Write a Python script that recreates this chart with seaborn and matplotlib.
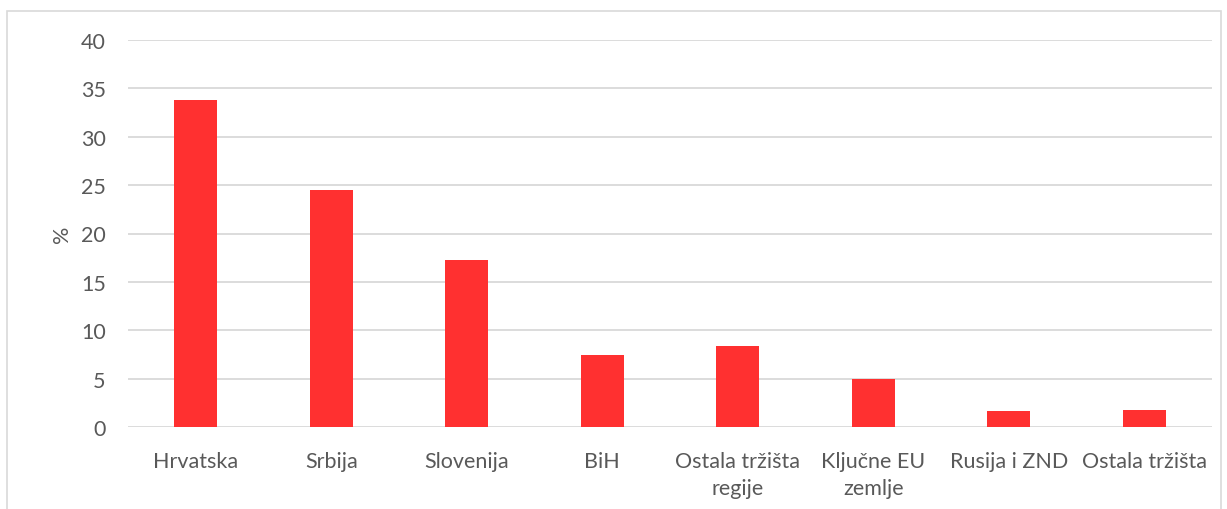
import matplotlib
matplotlib.use("Agg")
import matplotlib.pyplot as plt
import seaborn as sns
import pandas as pd
from matplotlib.patches import Rectangle

categories = ["Hrvatska", "Srbija", "Slovenija", "BiH", "Ostala tržišta\nregije",
              "Ključne EU\nzemlje", "Rusija i ZND", "Ostala tržišta"]
values = [33.8, 24.5, 17.3, 7.45, 8.35, 5.0, 1.7, 1.75]
yticks = [0, 5, 10, 15, 20, 25, 30, 35, 40]

sns.set_theme(style="white")
plt.rcParams['font.family'] = ['Lato', 'DejaVu Sans']

df = pd.DataFrame({"cat": categories, "val": values})

fig = plt.figure(figsize=(12.27, 5.10), dpi=100)
ax = fig.add_axes([128/1227, 1 - 428/510, (1212-128)/1227, (428-41)/510])

sns.barplot(data=df, x="cat", y="val", color="#FF3030", width=0.32, ax=ax,
            saturation=1, edgecolor="none")

ax.set_ylim(0, 40)
ax.set_yticks(yticks)
ax.set_xlim(-0.5, len(categories) - 0.5)
ax.yaxis.grid(True, color="#D9D9D9", linewidth=1.3)
ax.set_axisbelow(True)
for s in ax.spines.values():
    s.set_visible(False)
ax.tick_params(axis='both', length=0, labelsize=15.5, colors="#595959")
ax.tick_params(axis='y', pad=16)
ax.tick_params(axis='x', pad=17)
for lbl in ax.get_xticklabels():
    lbl.set_linespacing(1.45)
ax.set_xlabel("")
ax.set_ylabel("%", fontsize=15.5, color="#595959", labelpad=6)

fig.patches.append(Rectangle((7/1227, -0.05), (1221-7)/1227, 1.05 - 12/510,
                             transform=fig.transFigure, fill=False,
                             edgecolor="#D9D9D9", linewidth=1.2))

fig.savefig("out.png", dpi=100)
